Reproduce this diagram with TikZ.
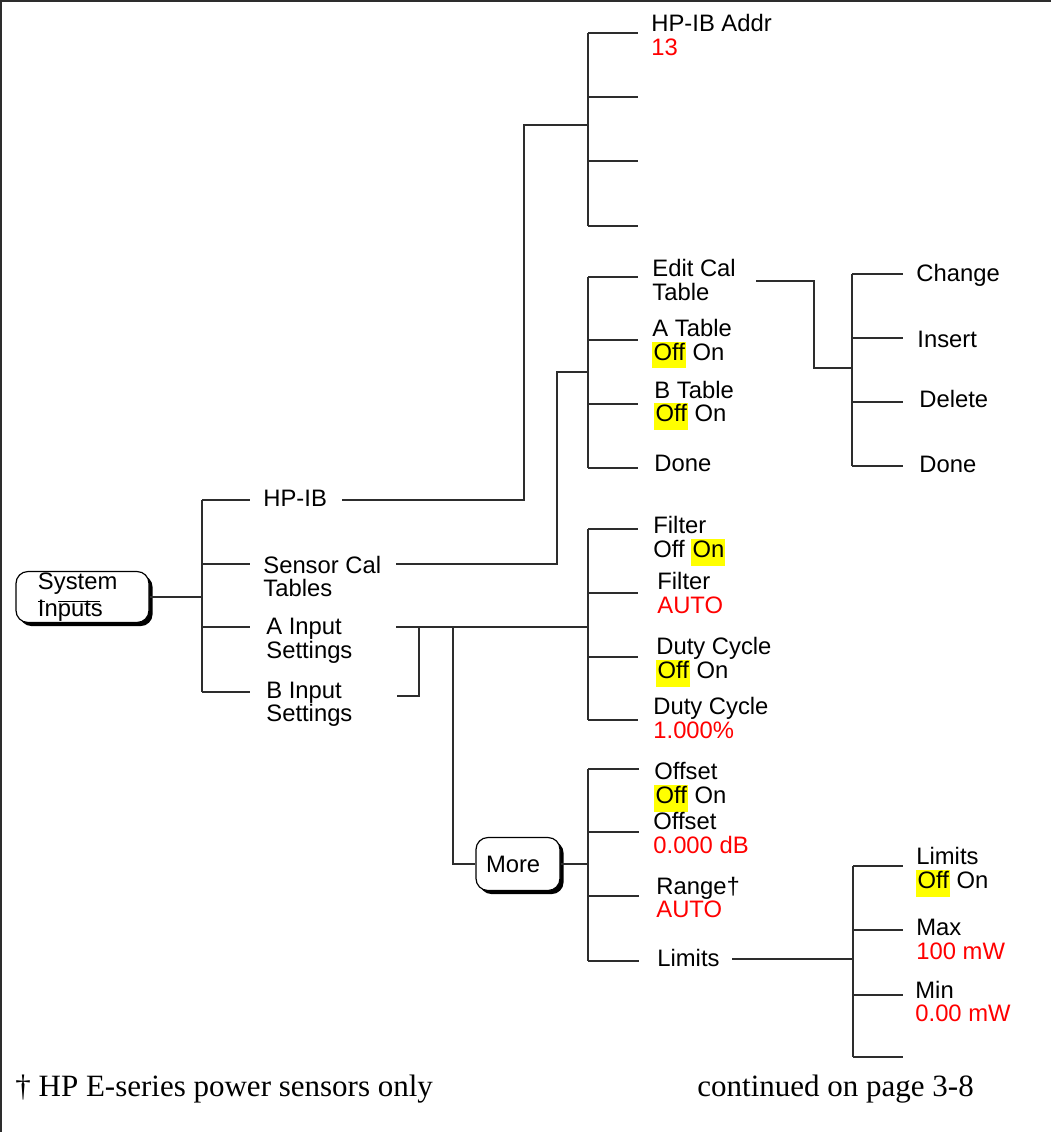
\documentclass[tikz,border=0pt]{standalone}
\usepackage{fontspec}
\setmainfont{Liberation Serif}
\newfontfamily\menufont{Liberation Sans}
\usetikzlibrary{shadows}

\definecolor{waarde}{RGB}{255,0,0}
\definecolor{markeer}{RGB}{255,255,0}
\definecolor{lijnkleur}{RGB}{45,45,45}

\newcommand{\rood}[1]{\textcolor{waarde}{#1}}
\newcommand{\aan}[1]{{\setlength{\fboxsep}{0.6pt}\colorbox{markeer}{\strut #1}}}

\begin{document}
\begin{tikzpicture}[x=0.5pt, y=-0.5pt]

% --- Stijldefinities ---
\tikzset{
    tekst/.style={
        anchor=base west,
        inner sep=0pt,
        align=left,
        font=\menufont\fontsize{11.9}{11.75}\selectfont
    },
    voet/.style={
        anchor=base west,
        inner sep=0pt,
        font=\fontsize{15.5}{18}\selectfont
    },
    knop/.style={
        draw=black,
        fill=white,
        line width=0.6pt,
        rounded corners=6pt,
        align=left,
        inner ysep=0pt,
        font=\menufont\fontsize{11.9}{13.8}\selectfont,
        drop shadow={shadow xshift=1.8pt, shadow yshift=-1.8pt,
                     fill=black, opacity=1}
    },
    lijn/.style={
        draw=lijnkleur,
        line width=0.8pt
    }
}

\useasboundingbox (0,0) rectangle (1051,1132);

% --- Kader ---
\draw[lijn] (1,1132) -- (1,1) -- (1051,1);

% --- Knoppen ---
\node[knop, inner xsep=11pt, text width=44.5pt, minimum height=25.5pt] (sys) at (82.5,597) {System\\Inputs};
\draw[line width=0.5pt] (38,601) -- (45,601);
\draw[line width=0.5pt] (58,601) -- (100,601);
\node[knop, inner xsep=5pt, text width=32pt, minimum height=26.5pt] (more) at (518,864) {More};

% --- Hoofdmenu (plaats = basislijn van de laatste regel) ---
\node[tekst] (hpib)   at (263,506)   {HP-IB};
\node[tekst] (sensor) at (263,596.7) {Sensor Cal\\Tables};
\node[tekst] (ain)    at (266,658.3) {A Input\\Settings};
\node[tekst] (bin)    at (266,721.7) {B Input\\Settings};

% --- HP-IB ---
\node[tekst] (addr) at (651,55) {HP-IB Addr\\\rood{13}};

% --- Sensor Cal Tables ---
\node[tekst] (editcal) at (652,300)   {Edit Cal\\Table};
\node[tekst] (atable)  at (652,360)   {A Table\\\aan{Off} On};
\node[tekst] (btable)  at (654,421.7) {B Table\\\aan{Off} On};
\node[tekst] (tdone)   at (654,471)   {Done};

% --- Edit Cal Table ---
\node[tekst] (change) at (916,281) {Change};
\node[tekst] (insert) at (917,347) {Insert};
\node[tekst] (delete) at (919,407) {Delete};
\node[tekst] (edone)  at (919,472) {Done};

% --- Input Settings ---
\node[tekst] (filtera) at (653,557.3) {Filter\\Off \aan{On}};
\node[tekst] (filterb) at (657,613.3) {Filter\\\rood{AUTO}};
\node[tekst] (dutya)   at (656,678.3) {Duty Cycle\\\aan{Off} On};
\node[tekst] (dutyb)   at (653,738.3) {Duty Cycle\\\rood{1.000\%}};

% --- More ---
\node[tekst] (offseta) at (654,803.3) {Offset\\\aan{Off} On};
\node[tekst] (offsetb) at (653,853.3) {Offset\\\rood{0.000 dB}};
\node[tekst] (range)   at (656,917.7) {Range†\\\rood{AUTO}};
\node[tekst] (limits)  at (657,966)   {Limits};

% --- Limits ---
\node[tekst] (limon) at (916,888.3)  {Limits\\\aan{Off} On};
\node[tekst] (max)   at (916,959.3)  {Max\\\rood{100 mW}};
\node[tekst] (min)   at (915,1021.7) {Min\\\rood{0.00 mW}};

% --- Voetnoten ---
\node[voet] (noot)    at (15,1096)  {† HP E-series power sensors only};
\node[voet] (vervolg) at (697,1096) {continued on page 3-8};

% --- Aansluitpunten ---
\coordinate (hbus) at (202,597);
\coordinate (s1) at (250,500);
\coordinate (s2) at (250,564);
\coordinate (s3) at (250,627);
\coordinate (s4) at (250,692);

\coordinate (hpibU) at (342,500);
\coordinate (hpibK) at (524,125);
\coordinate (hbusH) at (588,125);
\coordinate (h1) at (638,33);
\coordinate (h2) at (638,97);
\coordinate (h3) at (638,161);
\coordinate (h4) at (638,226);

\coordinate (sensU) at (396,564);
\coordinate (sensK) at (557,372);
\coordinate (sbusS) at (588,372);
\coordinate (t1) at (638,277);
\coordinate (t2) at (638,340);
\coordinate (t3) at (638,404);
\coordinate (t4) at (638,468);

\coordinate (editU) at (756,281);
\coordinate (editK) at (814,368);
\coordinate (ebusE) at (852,368);
\coordinate (e1) at (903,274);
\coordinate (e2) at (903,338);
\coordinate (e3) at (903,402);
\coordinate (e4) at (903,466);

\coordinate (ainU) at (396,627);
\coordinate (ibus) at (588,627);
\coordinate (i1) at (638,529);
\coordinate (i2) at (638,593);
\coordinate (i3) at (638,657);
\coordinate (i4) at (638,720);
\coordinate (binU) at (397,696);
\coordinate (binK) at (419,627);
\coordinate (moreK) at (453,627);

\coordinate (mbus) at (588,864);
\coordinate (m1) at (639,769);
\coordinate (m2) at (639,832);
\coordinate (m3) at (639,896);
\coordinate (m4) at (639,961);

\coordinate (limU) at (732,959);
\coordinate (lbus) at (853,959);
\coordinate (l1) at (903,866);
\coordinate (l2) at (903,930);
\coordinate (l3) at (903,995);
\coordinate (l4) at (903,1057);

% --- Lijnen ---

% Hoofdmenu
\draw[lijn] (sys.east) -- (hbus);
\draw[lijn] (hbus |- s1) -- (hbus |- s4);
\foreach \s in {s1,s2,s3,s4}
    \draw[lijn] (hbus |- \s) -- (\s);

% HP-IB
\draw[lijn] (hpibU) -| (hpibK) -- (hbusH);
\draw[lijn] (hbusH |- h1) -- (hbusH |- h4);
\foreach \s in {h1,h2,h3,h4}
    \draw[lijn] (hbusH |- \s) -- (\s);

% Sensor Cal Tables
\draw[lijn] (sensU) -| (sensK) -- (sbusS);
\draw[lijn] (sbusS |- t1) -- (sbusS |- t4);
\foreach \s in {t1,t2,t3,t4}
    \draw[lijn] (sbusS |- \s) -- (\s);

% Edit Cal Table
\draw[lijn] (editU) -| (editK) -- (ebusE);
\draw[lijn] (ebusE |- e1) -- (ebusE |- e4);
\foreach \s in {e1,e2,e3,e4}
    \draw[lijn] (ebusE |- \s) -- (\s);

% Input Settings
\draw[lijn] (ainU) -- (ibus);
\draw[lijn] (binU) -| (binK);
\draw[lijn] (ibus |- i1) -- (ibus |- i4);
\foreach \s in {i1,i2,i3,i4}
    \draw[lijn] (ibus |- \s) -- (\s);

% More
\draw[lijn] (moreK) |- (more.west);
\draw[lijn] (more.east) -- (mbus);
\draw[lijn] (mbus |- m1) -- (mbus |- m4);
\foreach \s in {m1,m2,m3,m4}
    \draw[lijn] (mbus |- \s) -- (\s);

% Limits
\draw[lijn] (limU) -- (lbus);
\draw[lijn] (lbus |- l1) -- (lbus |- l4);
\foreach \s in {l1,l2,l3,l4}
    \draw[lijn] (lbus |- \s) -- (\s);

\end{tikzpicture}
\end{document}
